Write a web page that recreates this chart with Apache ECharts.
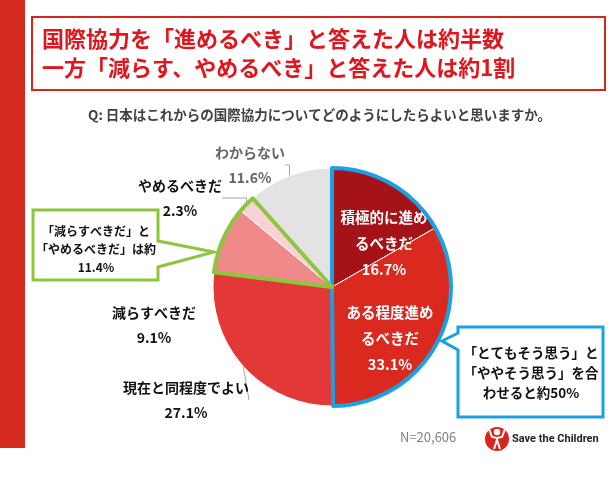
<!DOCTYPE html>
<html>
<head>
<meta charset="utf-8">
<script src="https://cdn.jsdelivr.net/npm/echarts@6/dist/echarts.min.js"></script>
<style>
html,body{margin:0;padding:0;background:#fff;}
#chart{width:608px;height:480px;}
</style>
</head>
<body>
<div id="chart"></div>
<script>
// ---- data ----
var categories = ['積極的に進め\nるべきだ', 'ある程度進め\nるべきだ', '現在と同程度でよい', '減らすべきだ', 'やめるべきだ', 'わからない'];
var values = [16.7, 33.1, 27.1, 9.1, 2.3, 11.6];
var titleLines = ['国際協力を「進めるべき」と答えた人は約半数', '一方「減らす、やめるべき」と答えた人は約1割'];
var question = 'Q: 日本はこれからの国際協力についてどのようにしたらよいと思いますか。';
var calloutGreen = '「減らすべきだ」と\n「やめるべきだ」は約\n11.4%';
var calloutBlue = '「とてもそう思う」と\n「ややそう思う」を合\nわせると約50%';
var sampleNote = 'N=20,606';
var brandText = 'Save the Children';

// ---- styles ----
var sliceColors = ['#a51218', '#da2a1f', '#e33838', '#f08a8a', '#f9d3d3', '#e3e3e3'];
var labelPos = [[384, 243], [390, 338], [186, 400], [154, 325], [180, 198], [250, 165]];
var FONT = '"Noto Sans CJK JP", "Noto Sans", sans-serif';
var CENTER = [332, 287];
var R = 119;

var pieData = categories.map(function (c, i) {
  var item = { name: c, value: values[i], itemStyle: { color: sliceColors[i] } };
  if (i < 2) {
    item.label = { position: 'inside', color: '#fff', fontSize: 14.5, lineHeight: 26 };
    item.labelLine = { show: false };
  }
  if (i === 3) item.labelLine = { show: false };
  if (i === 5) item.label = { color: '#666' };
  return item;
});

var overlayData = [
  { value: values[0] + values[1], itemStyle: { borderColor: '#1ba1e2', borderWidth: 4 } },
  { value: values[2], itemStyle: { borderWidth: 0 } },
  { value: values[3] + values[4], itemStyle: { borderColor: '#8cc63f', borderWidth: 4 } },
  { value: values[5], itemStyle: { borderWidth: 0 } }
];

var chart = echarts.init(document.getElementById('chart'), null, { renderer: 'canvas' });
chart.setOption({
  backgroundColor: '#fff',
  animation: false,
  series: [
    {
      type: 'pie',
      center: CENTER,
      radius: R,
      startAngle: 90,
      clockwise: true,
      avoidLabelOverlap: false,
      itemStyle: { borderColor: '#fff', borderWidth: 1 },
      label: {
        show: true,
        position: 'outside',
        formatter: function (p) { return p.name + '\n' + p.value.toFixed(1) + '%'; },
        fontFamily: FONT,
        fontWeight: 'bold',
        fontSize: 14,
        lineHeight: 25,
        color: '#111',
        align: 'center'
      },
      labelLine: { show: true, lineStyle: { color: '#a6a6a6', width: 1 } },
      labelLayout: function (p) {
        var pos = labelPos[p.dataIndex];
        return { x: pos[0], y: pos[1], align: 'center', verticalAlign: 'middle' };
      },
      emphasis: { disabled: true },
      data: pieData
    },
    {
      type: 'pie',
      center: CENTER,
      radius: R,
      startAngle: 90,
      clockwise: true,
      silent: true,
      z: 5,
      label: { show: false },
      labelLine: { show: false },
      itemStyle: { color: 'rgba(0,0,0,0)' },
      emphasis: { disabled: true },
      data: overlayData
    }
  ],
  graphic: [
    { type: 'rect', shape: { x: 0, y: 0, width: 25, height: 448 }, style: { fill: '#d42a20' } },
    { type: 'rect', shape: { x: 32, y: 17, width: 573, height: 73 }, style: { fill: 'none', stroke: '#d9261c', lineWidth: 2 } },
    { type: 'text', x: 42, y: 39, style: { text: titleLines[0], font: 'bold 22px ' + FONT, fill: '#e0161e', verticalAlign: 'middle' } },
    { type: 'text', x: 42, y: 68, style: { text: titleLines[1], font: 'bold 22px ' + FONT, fill: '#e0161e', verticalAlign: 'middle' } },
    { type: 'text', x: 88, y: 115, style: { text: question, font: 'bold 13.5px ' + FONT, fill: '#404040', verticalAlign: 'middle' } },
    { type: 'polygon', shape: { points: [[33, 210], [158, 210], [158, 241], [214, 252], [158, 267], [158, 280], [33, 280]] },
      style: { fill: '#fff', stroke: '#8cc63f', lineWidth: 3 }, z: 10 },
    { type: 'text', x: 96, y: 249, z: 11, style: { text: calloutGreen, font: 'bold 12px ' + FONT, fill: '#111', align: 'center', verticalAlign: 'middle', lineHeight: 18 } },
    { type: 'polygon', shape: { points: [[458, 327], [603, 327], [603, 417], [458, 417], [458, 350], [442, 341], [458, 333]] },
      style: { fill: '#fff', stroke: '#1ba1e2', lineWidth: 3 }, z: 10 },
    { type: 'text', x: 531, y: 373, z: 11, style: { text: calloutBlue, font: 'bold 13.5px ' + FONT, fill: '#111', align: 'center', verticalAlign: 'middle', lineHeight: 20 } },
    { type: 'text', x: 400, y: 437, style: { text: sampleNote, font: '13px ' + FONT, fill: '#808080', verticalAlign: 'middle' } },
    { type: 'circle', shape: { cx: 497, cy: 439, r: 12 }, style: { fill: '#d9261c' } },
    { type: 'circle', shape: { cx: 497, cy: 432, r: 3.2 }, style: { fill: '#fff' } },
    { type: 'polyline', shape: { points: [[489, 429], [492, 437], [497, 438], [502, 437], [505, 429]] }, style: { stroke: '#fff', lineWidth: 2, fill: 'none' } },
    { type: 'polyline', shape: { points: [[494, 449], [497, 440], [500, 449]] }, style: { stroke: '#fff', lineWidth: 2, fill: 'none' } },
    { type: 'text', x: 512, y: 439, style: { text: brandText, font: 'bold 11px Roboto, sans-serif', fill: '#222', verticalAlign: 'middle' } }
  ]
});
</script>
</body>
</html>
